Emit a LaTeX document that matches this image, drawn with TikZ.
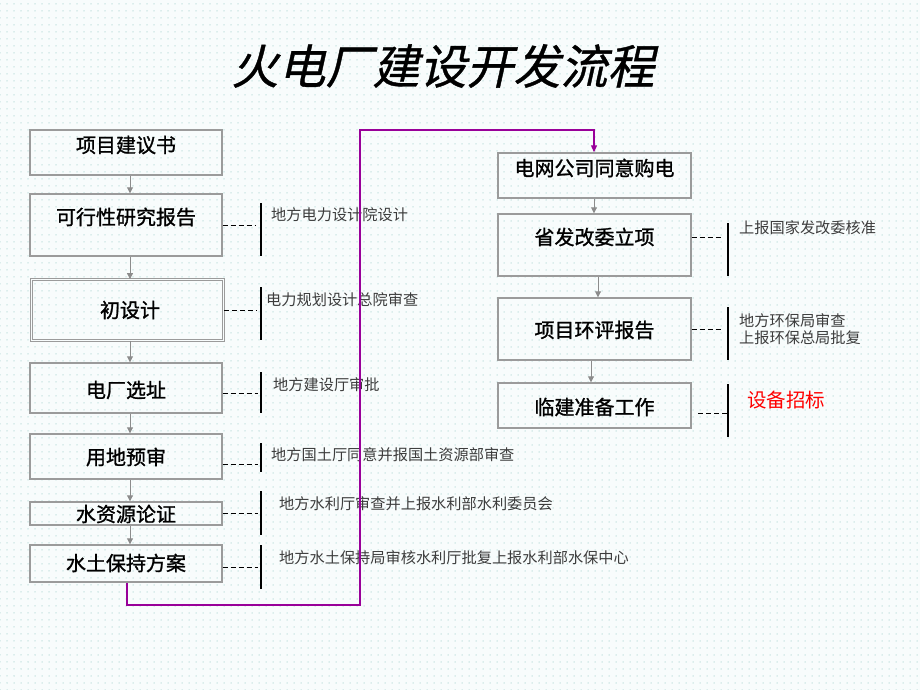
\documentclass[tikz,border=0pt]{standalone}
\usepackage{fontspec}
\usetikzlibrary{arrows.meta,patterns.meta}
\newfontfamily\cjk{Noto Sans CJK SC}
\newfontfamily\cjkbox{Noto Sans CJK SC}[FakeBold=1.2]
\newfontfamily\cjktitle{Noto Sans CJK SC}[FakeSlant=0.22,FakeBold=0.8]
\definecolor{bgc}{RGB}{248,252,252}
\definecolor{dotc}{RGB}{190,222,220}
\definecolor{boxc}{RGB}{155,155,155}
\definecolor{arrc}{RGB}{140,140,140}
\definecolor{purc}{RGB}{153,0,153}
\definecolor{sidec}{RGB}{60,60,60}
\tikzset{
  box/.style={draw=boxc, line width=1.4pt, rectangle, inner sep=0pt},
  boxtxt/.style={font=\cjkbox\fontsize{20}{24}\selectfont, text=black, inner sep=0pt},
  sidetxt/.style={font=\cjk\fontsize{15.2}{17.5}\selectfont, text=sidec, anchor=west, inner sep=0pt, align=left},
  arr/.style={draw=arrc, line width=0.9pt, -{Triangle[length=6pt,width=6pt]}},
  dashln/.style={draw=black, line width=0.9pt, dash pattern=on 5pt off 3pt},
  barln/.style={draw=black, line width=1.2pt},
  purln/.style={draw=purc, line width=1.1pt, -{Triangle[length=7pt,width=6pt]}}
}
\begin{document}
\begin{tikzpicture}[x=1pt,y=-1pt]
\useasboundingbox (0,0) rectangle (920,690);
\fill[bgc] (0,0) rectangle (920,690);
\fill[pattern={Dots[distance=7pt,radius=0.75pt]}, pattern color=dotc] (0,0) rectangle (920,690);

% title
\node[font=\cjktitle\fontsize{47}{51}\selectfont, inner sep=0pt] (title) at (443,66) {火电厂建设开发流程};

% left column boxes
\node[box, minimum width=192pt, minimum height=45pt] (b1) at (126,152.5) {};
\node[boxtxt] (t1) at (126,145) {项目建议书};
\node[box, minimum width=192pt, minimum height=62pt] (b2) at (126,225) {};
\node[boxtxt] (t2) at (126,217) {可行性研究报告};
\node[box, draw=boxc, line width=0.8pt, double=bgc, double distance=1.4pt, minimum width=192pt, minimum height=61pt] (b3) at (127.5,310) {};
\node[boxtxt] (t3) at (130,310) {初设计};
\node[box, minimum width=192pt, minimum height=50pt] (b4) at (126,388) {};
\node[boxtxt] (t4) at (126,390) {电厂选址};
\node[box, minimum width=192pt, minimum height=45pt] (b5) at (126,456.5) {};
\node[boxtxt] (t5) at (126,457) {用地预审};
\node[box, minimum width=192pt, minimum height=23pt] (b6) at (126,513.5) {};
\node[boxtxt] (t6) at (126,514) {水资源论证};
\node[box, minimum width=192pt, minimum height=37pt] (b7) at (126,563.5) {};
\node[boxtxt] (t7) at (126,563) {水土保持方案};

% left arrows
\draw[arr] ([xshift=4pt]b1.south) -- ([xshift=4pt]b2.north);
\draw[arr] ([xshift=4pt]b2.south) -- ([xshift=2.5pt]b3.north);
\draw[arr] ([xshift=2.5pt]b3.south) -- ([xshift=4pt]b4.north);
\draw[arr] ([xshift=4pt]b4.south) -- ([xshift=4pt]b5.north);
\draw[arr] ([xshift=4pt]b5.south) -- ([xshift=4pt]b6.north);
\draw[arr] ([xshift=4pt]b6.south) -- ([xshift=4pt]b7.north);

% left side notes
\coordinate (d2) at (256,225); \coordinate (v2a) at (261,203); \coordinate (v2b) at (261,256);
\draw[dashln] (b2.east |- d2) -- (d2); \draw[barln] (v2a) -- (v2b);
\node[sidetxt] (s2) at (271,215) {地方电力设计院设计};

\coordinate (d3) at (256,310); \coordinate (v3a) at (261,287); \coordinate (v3b) at (261,340);
\draw[dashln] (b3.east |- d3) -- (d3); \draw[barln] (v3a) -- (v3b);
\node[sidetxt] (s3) at (266,300) {电力规划设计总院审查};

\coordinate (d4) at (258,393); \coordinate (v4a) at (261,372); \coordinate (v4b) at (261,413);
\draw[dashln] (b4.east |- d4) -- (d4); \draw[barln] (v4a) -- (v4b);
\node[sidetxt] (s4) at (273,385) {地方建设厅审批};

\coordinate (d5) at (258,464); \coordinate (v5a) at (261,443); \coordinate (v5b) at (261,472);
\draw[dashln] (b5.east |- d5) -- (d5); \draw[barln] (v5a) -- (v5b);
\node[sidetxt] (s5) at (271,455) {地方国土厅同意并报国土资源部审查};

\coordinate (d6) at (258,513); \coordinate (v6a) at (261,491); \coordinate (v6b) at (261,535);
\draw[dashln] (b6.east |- d6) -- (d6); \draw[barln] (v6a) -- (v6b);
\node[sidetxt] (s6) at (279,504) {地方水利厅审查并上报水利部水利委员会};

\coordinate (d7) at (258,567); \coordinate (v7a) at (261,545); \coordinate (v7b) at (261,589);
\draw[dashln] (b7.east |- d7) -- (d7); \draw[barln] (v7a) -- (v7b);
\node[sidetxt] (s7) at (279,558) {地方水土保持局审核水利厅批复上报水利部水保中心};

% right column boxes
\node[box, minimum width=193pt, minimum height=45pt] (r1) at (594.5,175.5) {};
\node[boxtxt] (u1) at (594.5,168) {电网公司同意购电};
\node[box, minimum width=193pt, minimum height=62pt] (r2) at (594.5,245) {};
\node[boxtxt] (u2) at (594.5,237) {省发改委立项};
\node[box, minimum width=193pt, minimum height=62pt] (r3) at (594.5,329) {};
\node[boxtxt] (u3) at (594.5,330) {项目环评报告};
\node[box, minimum width=193pt, minimum height=45pt] (r4) at (594.5,405.5) {};
\node[boxtxt] (u4) at (594.5,407) {临建准备工作};

% right arrows
\draw[arr] ([xshift=-0.5pt]r1.south) -- ([xshift=-0.5pt]r2.north);
\draw[arr] ([xshift=3.5pt]r2.south) -- ([xshift=3.5pt]r3.north);
\draw[arr] ([xshift=-3.5pt]r3.south) -- ([xshift=-3.5pt]r4.north);

% right side notes
\coordinate (e2) at (723,237); \coordinate (w2a) at (728,223); \coordinate (w2b) at (728,276);
\draw[dashln] (r2.east |- e2) -- (e2); \draw[barln] (w2a) -- (w2b);
\node[sidetxt] (q2) at (739,228) {上报国家发改委核准};

\coordinate (e3) at (723,329); \coordinate (w3a) at (728,307); \coordinate (w3b) at (728,360);
\draw[dashln] (r3.east |- e3) -- (e3); \draw[barln] (w3a) -- (w3b);
\node[sidetxt] (q3) at (739,329) {地方环保局审查\\上报环保总局批复};

\coordinate (e4a) at (698,413); \coordinate (e4) at (728,413); \coordinate (w4a) at (728,384); \coordinate (w4b) at (728,437);
\draw[dashln] (e4a) -- (e4); \draw[barln] (w4a) -- (w4b);
\node[sidetxt, font=\cjk\fontsize{19.5}{22}\selectfont, text=red] (q4) at (747,400) {设备招标};

% purple connector
\coordinate (c1) at (360,605);
\coordinate (c2) at (360,130);
\draw[purln] ([xshift=1pt]b7.south) |- (c1) -- (c2) -| ([xshift=-0.5pt]r1.north);
\end{tikzpicture}
\end{document}
